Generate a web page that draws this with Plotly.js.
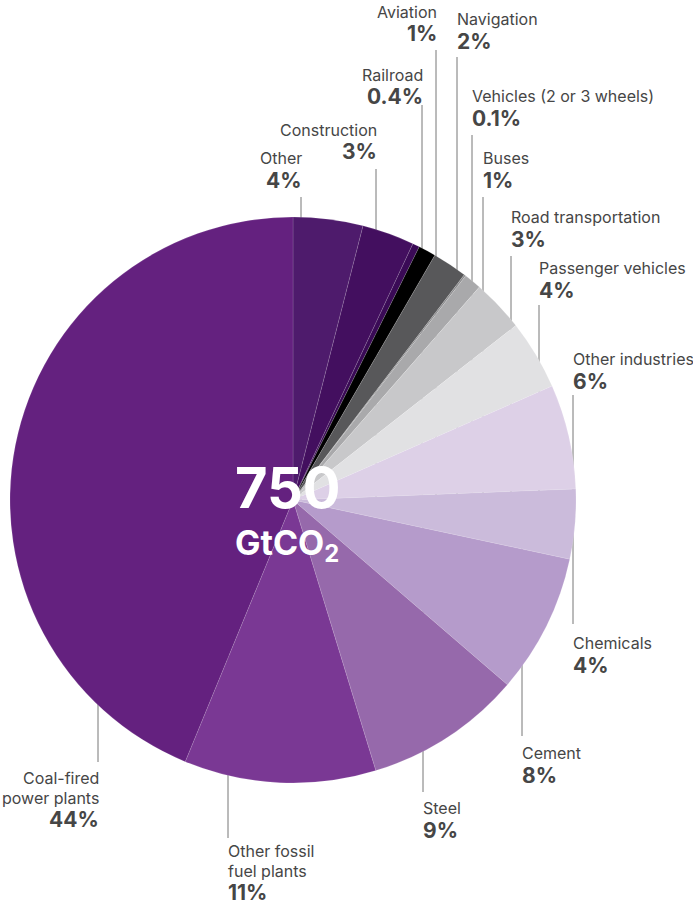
<!DOCTYPE html>
<html>
<head>
<meta charset="utf-8">
<script src="https://cdn.plot.ly/plotly-3.0.1.min.js"></script>
<style>html,body{margin:0;padding:0;background:#fff;}#chart{width:693px;height:906px;}</style>
</head>
<body>
<div id="chart"></div>
<script>
// ---- data ----
const categories = ["Other", "Construction", "Railroad", "Aviation", "Navigation",
  "Vehicles (2 or 3 wheels)", "Buses", "Road transportation", "Passenger vehicles",
  "Other industries", "Chemicals", "Cement", "Steel", "Other fossil<br>fuel plants",
  "Coal-fired<br>power plants"];
const shares = [4, 3, 0.4, 1, 2, 0.1, 1, 3, 4, 6, 4, 8, 9, 11, 44];
const shareLabels = ["4%", "3%", "0.4%", "1%", "2%", "0.1%", "1%", "3%", "4%", "6%", "4%", "8%", "9%", "11%", "44%"];
const totalValue = "750";
const totalUnit = "GtCO<sub>2</sub>";

// ---- styles / label layout (pixels) ----
const colors = ["#4e1b6c", "#430f5f", "#3a0a56", "#000000", "#58585a", "#8c8c8e", "#a9a9ab",
  "#c8c8ca", "#e1e1e3", "#ddd0e7", "#cbbbdb", "#b59bcb", "#9669ab", "#7a3894", "#64217f"];
// [lineX, lineEndY, firstNameLineCenterY, side('r' = text right of line / 'l' = text left of line)]
const labelPos = [
  [301, 197, 158, 'l'],
  [376, 169, 130, 'l'],
  [422, 105, 75, 'l'],
  [436, 50, 12, 'l'],
  [457, 57, 19, 'r'],
  [472, 135, 96, 'r'],
  [483, 197, 158, 'r'],
  [511, 256, 217, 'r'],
  [539, 305, 268, 'r'],
  [573, 395, 359, 'r'],
  [573, 624, 643, 'r'],
  [522, 736, 753, 'r'],
  [423, 792, 808, 'r'],
  [228, 838, 851, 'r'],
  [98, 762, 778, 'l']
];

const W = 693, H = 906;
const cx = 293, cy = 500, R = 283;
const px = x => x / W;
const py = y => 1 - y / H;

const FONT = "Inter, 'Noto Sans', sans-serif";
const textColor = "#464646";
const nameSize = 16, pctSize = 21, lineGap = 19.5, pctGap = 22;

const annotations = [];
const shapes = [];
categories.forEach((name, i) => {
  const [lx, ly, ny, side] = labelPos[i];
  const xa = side === 'r' ? 'left' : 'right';
  const tx = side === 'r' ? lx - 2 : lx + 3;
  const lines = name.split('<br>');
  lines.forEach((t, k) => {
    annotations.push({
      x: px(tx), y: py(ny + k * lineGap), xref: 'paper', yref: 'paper',
      xanchor: xa, yanchor: 'middle', showarrow: false, text: t,
      font: {family: FONT, size: nameSize, color: textColor}
    });
  });
  const pctY = ny + (lines.length - 1) * lineGap + pctGap;
  annotations.push({
    x: px(tx), y: py(pctY), xref: 'paper', yref: 'paper',
    xanchor: xa, yanchor: 'middle', showarrow: false, text: '<b>' + shareLabels[i] + '</b>',
    font: {family: FONT, size: pctSize, color: textColor}
  });
  shapes.push({
    type: 'line', layer: 'below', xref: 'paper', yref: 'paper',
    x0: px(lx), x1: px(lx), y0: py(ly), y1: py(cy),
    line: {color: '#767676', width: 1}
  });
});

annotations.push({
  x: px(288), y: py(488), xref: 'paper', yref: 'paper', xanchor: 'center', yanchor: 'middle',
  showarrow: false, text: '<b>' + totalValue + '</b>',
  font: {family: FONT, size: 56, color: '#ffffff'}
});
annotations.push({
  x: px(287), y: py(545), xref: 'paper', yref: 'paper', xanchor: 'center', yanchor: 'middle',
  showarrow: false, text: '<b>' + totalUnit + '</b>',
  font: {family: FONT, size: 34, color: '#ffffff'}
});

const trace = {
  type: 'pie',
  labels: categories,
  values: shares,
  sort: false,
  direction: 'clockwise',
  rotation: 0,
  textinfo: 'none',
  hoverinfo: 'none',
  showlegend: false,
  marker: {colors: colors, line: {color: 'rgba(255,255,255,0.25)', width: 0.5}},
  domain: {x: [px(cx - R), px(cx + R)], y: [py(cy + R), py(cy - R)]}
};

Plotly.newPlot('chart', [trace], {
  width: W, height: H,
  margin: {l: 0, r: 0, t: 0, b: 0},
  paper_bgcolor: '#ffffff',
  showlegend: false,
  annotations: annotations,
  shapes: shapes
}, {displayModeBar: false, staticPlot: true});
</script>
</body>
</html>
